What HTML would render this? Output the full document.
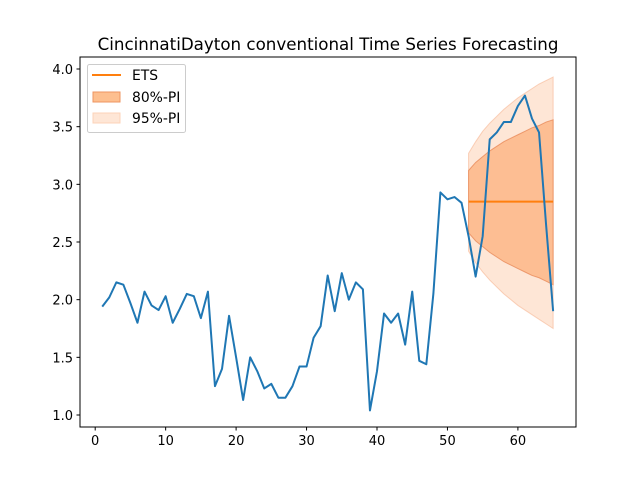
<!DOCTYPE html>
<html><head><meta charset="utf-8"><style>
body{margin:0;background:#fff;}
svg text{font-family:"DejaVu Sans","Liberation Sans",sans-serif;}
</style></head><body>
<svg id="chart" width="640" height="480" xmlns="http://www.w3.org/2000/svg">
<rect width="640" height="480" fill="#fff"/>
<text x="328" y="50" font-size="16.7" text-anchor="middle" fill="#000">CincinnatiDayton conventional Time Series Forecasting</text>
<g id="pi"></g>
<g id="lines"></g>
<rect x="80" y="57" width="496" height="370" fill="none" stroke="#000" stroke-width="1"/>
<g id="axes"></g>
<g>
<rect x="87.5" y="64.5" width="98" height="68" rx="2" fill="#fff" fill-opacity="0.8" stroke="#ccc"/>
<line x1="92" y1="75" x2="121" y2="75" stroke="#ff7f0e" stroke-width="2"/>
<text x="132" y="80" font-size="13.9">ETS</text>
<rect x="93" y="92" width="27" height="10" fill="#fdbf8f" stroke="#ee9460"/>
<text x="132" y="102" font-size="13.9">80%-PI</text>
<rect x="93" y="113" width="27" height="10" fill="#fee6d6" stroke="#fcd3b8"/>
<text x="132" y="123" font-size="13.9">95%-PI</text>
</g>
</svg>
<script>
const actual=[1.94,2.02,2.15,2.13,1.97,1.80,2.07,1.95,1.91,2.03,1.80,1.92,2.05,2.03,1.84,2.07,1.25,1.40,1.86,1.50,1.13,1.50,1.38,1.23,1.27,1.15,1.15,1.25,1.42,1.42,1.67,1.77,2.21,1.90,2.23,2.00,2.15,2.09,1.04,1.38,1.88,1.80,1.88,1.61,2.07,1.47,1.44,2.05,2.93,2.87,2.89,2.84,2.55,2.20,2.55,3.39,3.45,3.54,3.54,3.68,3.77,3.57,3.45,2.65,1.90];
const forecastStart=53;
const forecast=[2.85,2.85,2.85,2.85,2.85,2.85,2.85,2.85,2.85,2.85,2.85,2.85,2.85];
const up80=[3.12,3.19,3.24,3.29,3.33,3.37,3.40,3.43,3.46,3.49,3.51,3.54,3.56];
const lo80=[2.58,2.51,2.46,2.41,2.37,2.33,2.30,2.27,2.24,2.21,2.19,2.16,2.13];
const up95=[3.27,3.37,3.46,3.53,3.59,3.65,3.70,3.75,3.79,3.83,3.87,3.90,3.93];
const lo95=[2.42,2.32,2.24,2.17,2.11,2.05,2.00,1.95,1.91,1.87,1.83,1.79,1.75];
const xTicks=[0,10,20,30,40,50,60];
const yTicks=["1.0","1.5","2.0","2.5","3.0","3.5","4.0"];
const NS="http://www.w3.org/2000/svg";
const X=v=>95.2+(v)*7.045;
const Y=v=>415-(v-1)*115.33;
function mk(t,a,p){const e=document.createElementNS(NS,t);for(const k in a)e.setAttribute(k,a[k]);p.appendChild(e);return e;}
const pi=document.getElementById('pi'),ln=document.getElementById('lines'),ax=document.getElementById('axes');
function band(up,lo,fill,stroke,name){
  let pts=up.map((v,i)=>X(forecastStart+i)+','+Y(v));
  pts=pts.concat(lo.map((v,i)=>X(forecastStart+i)+','+Y(v)).reverse());
  const p=mk('polygon',{points:pts.join(' '),fill:fill,stroke:stroke,'stroke-width':1},pi);
  
  
}
band(up95,lo95,'rgba(253,200,165,0.45)','rgba(245,170,130,0.5)','pi-95-band');
band(up80,lo80,'rgba(253,180,130,0.8)','rgba(230,130,80,0.7)','pi-80-band');
const fl=mk('polyline',{points:forecast.map((v,i)=>X(forecastStart+i)+','+Y(v)).join(' '),fill:'none',stroke:'#ff7f0e','stroke-width':2},ln);


const al=mk('polyline',{points:actual.map((v,i)=>X(i+1)+','+Y(v)).join(' '),fill:'none',stroke:'#1f77b4','stroke-width':2,'stroke-linejoin':'round'},ln);


xTicks.forEach(t=>{
  const l=mk('line',{x1:X(t),x2:X(t),y1:427,y2:430.5,stroke:'#000'},ax);
  
  
  const tx=mk('text',{x:X(t),y:445,'font-size':13,'text-anchor':'middle'},ax);tx.textContent=t;
  
  
});
yTicks.forEach(t=>{
  const v=parseFloat(t);
  const l=mk('line',{x1:76.5,x2:80,y1:Y(v),y2:Y(v),stroke:'#000'},ax);
  
  
  const tx=mk('text',{x:73,y:Y(v)+5,'font-size':13,'text-anchor':'end'},ax);tx.textContent=t;
  
  
});
</script>
</body></html>
